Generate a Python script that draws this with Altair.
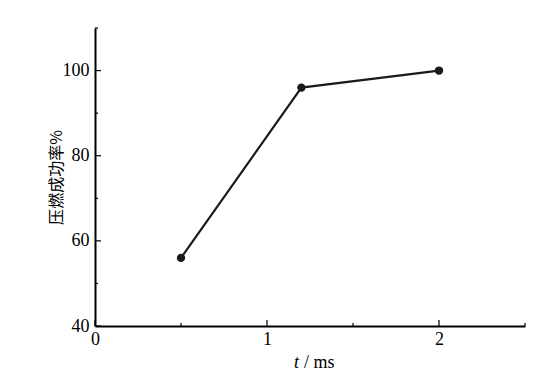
import altair as alt
import pandas as pd

t_ms = [0.5, 1.2, 2.0]
rate = [56, 96, 100]
x_major = [0, 1, 2]
x_minor = [0.5, 1.5, 2.5]
y_major = [40, 60, 80, 100]
y_minor = [50, 70, 90, 110]

W, H = 430, 298
SERIF = "Liberation Serif"
FS = 18

df = pd.DataFrame({"t": t_ms, "rate": rate})
xs = alt.Scale(domain=[0, 2.5], nice=False)
ys = alt.Scale(domain=[40, 110], nice=False)

x_axis = alt.Axis(values=x_major, format="d", tickSize=0, labelFont=SERIF, labelFontSize=FS,
                  labelColor="black", labelPadding=4, labelFlush=False, domainColor="black",
                  domainWidth=2, grid=False, title=None)
y_axis = alt.Axis(values=y_major, format="d", tickSize=0, labelFont=SERIF, labelFontSize=FS,
                  labelColor="black", labelPadding=6, labelFlush=False, domainColor="black",
                  domainWidth=2, grid=False, title="压燃成功率%", titleFont="Noto Sans CJK SC",
                  titleFontSize=16, titleFontWeight="normal", titleColor="black", titleAngle=-90,
                  titleX=-39, titleY=H / 2, titleBaseline="middle", titleAlign="center")

line = alt.Chart(df).mark_line(color="#1a1a1a", strokeWidth=2.2).encode(
    x=alt.X("t:Q", scale=xs, axis=x_axis),
    y=alt.Y("rate:Q", scale=ys, axis=y_axis),
)
pts = alt.Chart(df).mark_circle(color="#1a1a1a", opacity=1, size=70).encode(
    x=alt.X("t:Q", scale=xs), y=alt.Y("rate:Q", scale=ys))

def xticks(vals, length):
    d = pd.DataFrame({"v": vals})
    return alt.Chart(d).mark_rule(color="black", strokeWidth=1.2).encode(
        x=alt.X("v:Q", scale=xs), y=alt.value(H), y2=alt.value(H - length))

def yticks(vals, length):
    d = pd.DataFrame({"v": vals})
    return alt.Chart(d).mark_rule(color="black", strokeWidth=1.2).encode(
        y=alt.Y("v:Q", scale=ys), x=alt.value(0), x2=alt.value(length))

t_lab = alt.Chart(pd.DataFrame({"s": ["t"]})).mark_text(
    font=SERIF, fontSize=FS, fontStyle="italic", color="black", align="right", baseline="middle"
).encode(text="s:N", x=alt.value(204), y=alt.value(335))
ms_lab = alt.Chart(pd.DataFrame({"s": ["/ ms"]})).mark_text(
    font=SERIF, fontSize=FS, color="black", align="left", baseline="middle"
).encode(text="s:N", x=alt.value(209), y=alt.value(335))

chart = alt.layer(
    line, pts, xticks(x_major, 6), xticks(x_minor, 3), yticks(y_major, 6), yticks(y_minor, 3),
    t_lab, ms_lab
).properties(
    width=W, height=H,
    autosize=alt.AutoSizeParams(type="none"),
    padding={"left": 95, "top": 28, "right": 28, "bottom": 54},
).configure(background="white").configure_view(stroke=None, strokeWidth=0)

chart.save("out.html", embed_options={"renderer": "svg", "actions": False})
